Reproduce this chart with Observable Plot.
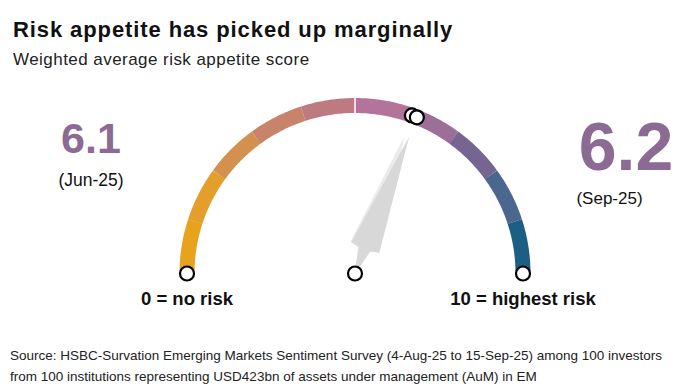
<!DOCTYPE html>
<html>
<head>
<meta charset="utf-8">
<script src="https://cdn.jsdelivr.net/npm/d3@7"></script>
<script src="https://cdn.jsdelivr.net/npm/@observablehq/plot@0.6"></script>
<style>
  html, body { margin: 0; padding: 0; background: #fff; }
  #wrap { position: relative; width: 696px; height: 390px; overflow: hidden;
          font-family: "Liberation Sans", Arial, Helvetica, sans-serif; color: #111; }
  #title { position: absolute; left: 13px; top: 19px; font-size: 22px; font-weight: bold;
           line-height: 1; white-space: nowrap; letter-spacing: 0.9px; }
  #subtitle { position: absolute; left: 13px; top: 51px; font-size: 17px; line-height: 1;
              white-space: nowrap; color: #222; letter-spacing: 0.45px; }
  #chart { position: absolute; left: 0; top: 80px; }
  #caption { position: absolute; left: 10px; top: 346px; font-size: 13.5px; line-height: 20.5px;
             color: #222; white-space: nowrap; }
</style>
</head>
<body>
<div id="wrap">
  <div id="title">Risk appetite has picked up marginally</div>
  <div id="subtitle">Weighted average risk appetite score</div>
  <div id="chart"></div>
  <div id="caption">Source: HSBC-Survation Emerging Markets Sentiment Survey (4-Aug-25 to 15-Sep-25) among 100 investors<br>from 100 institutions representing USD423bn of assets under management (AuM) in EM</div>
</div>
<script>
// ---- Data ----
const segmentStarts = [0, 1, 2, 3, 4, 5, 6, 7, 8, 9];
const segmentColors = ["#E8A31C", "#E39E2B", "#D4904E", "#C8846A", "#BD7A80",
                       "#B3739A", "#9C6F98", "#766590", "#4B668F", "#1D5E84"];
const scaleEnds = [0, 10];
const endLabels = ["0 = no risk", "10 = highest risk"];
const periods = ["Jun-25", "Sep-25"];
const scores = [6.1, 6.2];
const scoreColor = "#8B6A93";
const dividerAt = [5];

// ---- Geometry helpers (gauge units, radius = 1) ----
const PX = 168;            // pixels per gauge unit
const W = 696, H = 240;
const CX = 354.5, CY = 193; // gauge centre inside the svg
const vmax = 10;
const ang = v => Math.PI * (1 - v / vmax);
const pt = (v, r) => [r * Math.cos(ang(v)), r * Math.sin(ang(v))];

// arc band segments
const arc = [];
segmentStarts.forEach((s, i) => {
  const n = 24;
  for (let j = 0; j <= n; j++) {
    const v = s + j / n;
    const [x, y] = pt(v, 1);
    arc.push({seg: i, x, y, color: segmentColors[i]});
  }
});

// needle outline in (along, across) pixels
const needleShape = [[147, 0], [28, 15], [26, 6], [7, 2], [7, -2], [26, -6], [28, -15], [147, 0]];
const needle = v => needleShape.map(([a, c]) => {
  const t = ang(v);
  const ux = Math.cos(t), uy = Math.sin(t);
  return {x: (a * ux - c * uy) / PX, y: (a * uy + c * ux) / PX};
});

const ends = scaleEnds.map((v, i) => ({v, label: endLabels[i], x: pt(v, 1)[0], y: pt(v, 1)[1]}));
const marks = scores.map((v, i) => ({v, period: periods[i], x: pt(v, 1)[0], y: pt(v, 1)[1]}));
const divider = dividerAt.map(v => ({x1: pt(v, 0.955)[0], y1: pt(v, 0.955)[1], x2: pt(v, 1.05)[0], y2: pt(v, 1.05)[1]}));

const chart = Plot.plot({
  width: W,
  height: H,
  margin: 0,
  x: {domain: [-CX / PX, (W - CX) / PX], axis: null},
  y: {domain: [-(H - CY) / PX, CY / PX], axis: null},
  color: {type: "identity"},
  style: {fontFamily: "'Liberation Sans', Arial, Helvetica, sans-serif", background: "#fff"},
  marks: [
    Plot.line(arc, {x: "x", y: "y", z: "seg", stroke: "color", strokeWidth: 15, strokeLinecap: "butt", strokeLinejoin: "round"}),
    Plot.link(divider, {x1: "x1", y1: "y1", x2: "x2", y2: "y2", stroke: "#fff", strokeWidth: 1.5}),
    Plot.line(needle(scores[0]), {x: "x", y: "y", fill: "#EBEBEB", stroke: "none"}),
    Plot.line(needle(scores[1]), {x: "x", y: "y", fill: "#D8D8D8", stroke: "none"}),
    Plot.dot(ends, {x: "x", y: "y", r: 7, fill: "#fff", stroke: "#000", strokeWidth: 2.2}),
    Plot.dot([{x: 0, y: 0}], {x: "x", y: "y", r: 7, fill: "#fff", stroke: "#000", strokeWidth: 2.2}),
    Plot.dot(marks, {x: "x", y: "y", r: 7, fill: "#fff", stroke: "#000", strokeWidth: 2.2}),
    Plot.text(ends, {x: "x", y: "y", text: "label", dy: 26, fontSize: 18.5, fontWeight: "bold", fill: "#111", textAnchor: "middle", lineAnchor: "middle"}),
    Plot.text([scores[0]], {frameAnchor: "top-left", text: d => d.toFixed(1), dx: 90.5, dy: 59, fontSize: 43, fontWeight: "bold", fill: scoreColor, textAnchor: "middle", lineAnchor: "middle"}),
    Plot.text([periods[0]], {frameAnchor: "top-left", text: d => `(${d})`, dx: 90.5, dy: 100, fontSize: 17.5, fill: "#111", textAnchor: "middle", lineAnchor: "middle"}),
    Plot.text([scores[1]], {frameAnchor: "top-left", text: d => d.toFixed(1), dx: 625.5, dy: 68, fontSize: 68, fontWeight: "bold", fill: scoreColor, textAnchor: "middle", lineAnchor: "middle"}),
    Plot.text([periods[1]], {frameAnchor: "top-left", text: d => `(${d})`, dx: 609, dy: 118, fontSize: 17, fill: "#111", textAnchor: "middle", lineAnchor: "middle"})
  ]
});
document.getElementById("chart").appendChild(chart);
</script>
</body>
</html>
